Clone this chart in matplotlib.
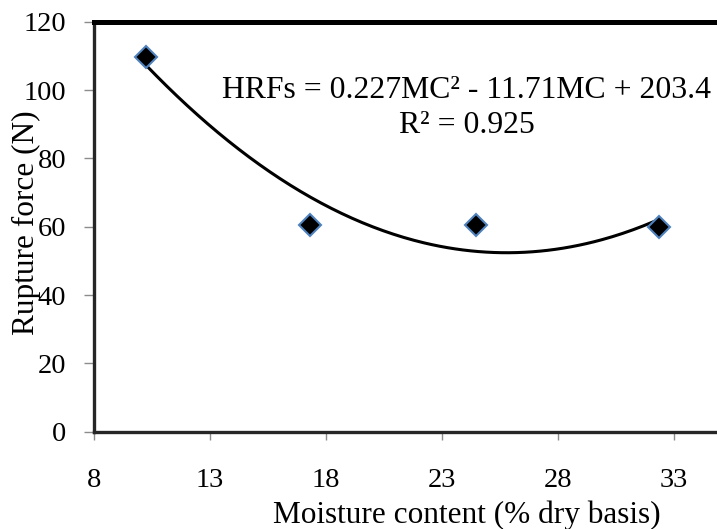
import numpy as np
import matplotlib
matplotlib.use('Agg')
from matplotlib import pyplot as plt

plt.rcParams['font.family'] = ['Liberation Serif', 'DejaVu Serif']

# values
moisture = [10.24, 17.31, 24.47, 32.34]
force = [109.8, 60.5, 60.5, 59.9]
trend_coefs = [0.227, -11.71, 203.4]   # HRFs = 0.227MC^2 - 11.71MC + 203.4
x_ticks = [8, 13, 18, 23, 28, 33]
y_ticks = [0, 20, 40, 60, 80, 100, 120]

fig = plt.figure(figsize=(7.17, 5.29), dpi=100)
ax = fig.add_axes([94/717, 97.3/529, 623/717, 410/529])

xs = np.linspace(min(moisture), max(moisture), 200)
ax.plot(xs, np.polyval(trend_coefs, xs), color='black', lw=2.2, zorder=2)
ax.plot(moisture, force, ls='none', marker='D', ms=11, mfc='black',
        mec='#4F81BD', mew=1.5, zorder=3)

ax.set_xlim(8, 8 + 623/23.2)
ax.set_ylim(0, 120)
ax.set_xticks(x_ticks)
ax.set_yticks(y_ticks)

ax.spines['right'].set_visible(False)
ax.spines['top'].set_linewidth(3.6)
ax.spines['top'].set_color('black')
for s in ['left', 'bottom']:
    ax.spines[s].set_linewidth(2.4)
    ax.spines[s].set_color('#262626')

ax.tick_params(axis='both', direction='out', color='#8c8c8c', width=1,
               labelsize=20.5, labelcolor='black')
ax.tick_params(axis='y', length=7, pad=13)
ax.tick_params(axis='x', length=6, pad=20)

ax.set_xlabel('Moisture content (% dry basis)', fontsize=22.5)
ax.xaxis.label.set_va('baseline')
ax.xaxis.set_label_coords(0.598, -0.223)
ax.set_ylabel('Rupture force (N)', fontsize=22.5)
ax.yaxis.set_label_coords(-0.085, 0.509)

ax.text(0.598, 0.79, 'HRFs = 0.227MC\u00b2 - 11.71MC + 203.4\nR\u00b2 = 0.925',
        transform=ax.transAxes, ha='center', va='center', multialignment='center',
        fontsize=22.9, linespacing=1.25)

fig.savefig('out.png', dpi=100)
